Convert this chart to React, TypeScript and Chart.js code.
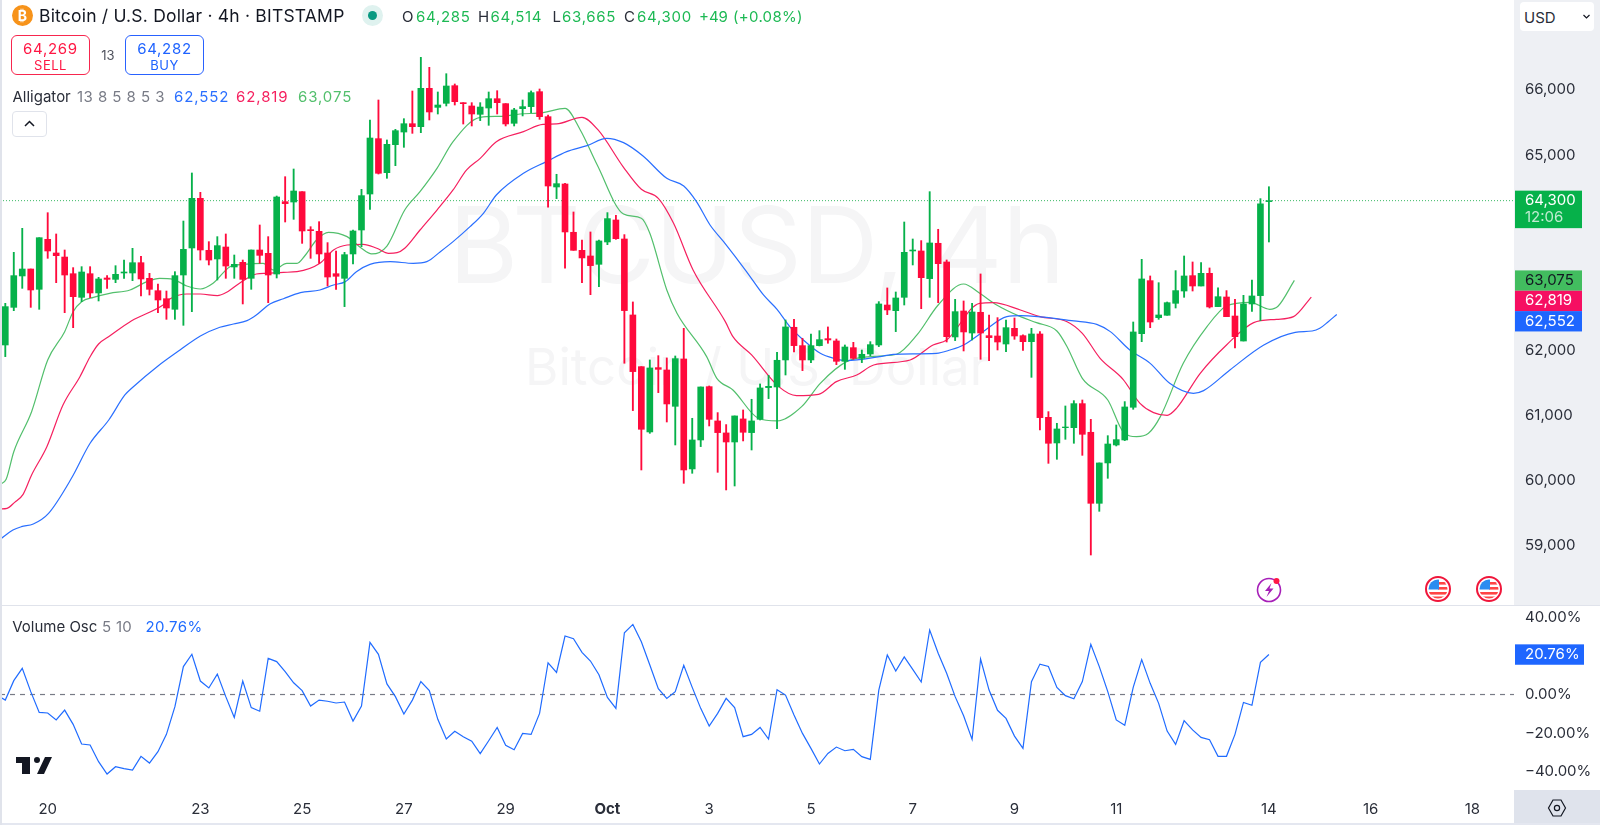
import React, { useEffect, useRef } from "react";
import { Chart, registerables } from "chart.js";

Chart.register(...registerables);

const FONT = "Inter, 'Noto Sans', sans-serif";

const opens = [62083,62661,63143,63250,62938,63706,63496,63434,63178,62815,63178,62882,63112,63091,63189,63189,63347,63107,62917,62794,62631,63158,63573,64336,63537,63404,63588,63281,63353,63107,63542,63491,63173,64284,64279,64438,63854,63829,63496,63178,63107,63481,63849,64402,65252,64730,65160,65354,65482,65436,66025,65733,65795,66066,65805,65754,65626,65723,65866,65790,65488,65713,65744,65974,65590,64510,64556,63814,63537,63450,63322,63665,64003,63711,62544,61750,60747,61735,61699,61141,61868,60179,60624,61443,60916,60732,60593,60947,60737,60941,61428,61438,61853,62355,62073,61853,62073,62180,62145,61832,62042,61878,61945,62083,62697,62610,62815,63527,63527,63102,63645,63358,62206,62605,62267,62585,62226,62221,62098,62339,62226,62134,62252,60972,60578,60813,60813,61182,60742,59651,60271,60547,60624,61126,62257,63071,62503,62539,62723,62912,63148,62989,63184,62672,62820,62528,62144,62713,62841,64285];
const highs = [62723,63506,63875,63250,63731,64115,63788,63542,63271,63286,63286,63122,63148,63301,63388,63568,63445,63184,63020,62912,63209,63987,64725,64428,63670,63747,63788,63465,63388,63542,63926,63747,64371,64668,64786,64438,63900,63977,63655,63527,63506,63849,64474,65539,65846,65232,65395,65559,65984,66501,66348,65969,66250,66092,65805,65805,65805,65969,65989,65790,65718,65846,65985,66015,65616,64705,64566,64126,63696,63819,63696,64116,64075,63778,62744,61750,61853,61919,61884,61914,62339,60957,61438,61453,61044,60860,60993,61085,61249,61484,61617,61971,62467,62477,62186,62252,62303,62360,62175,62083,62124,62006,62134,62749,62959,62897,63972,63711,63686,64438,63860,63389,62784,62759,62723,63174,62544,62503,62467,62498,62237,62339,62288,61059,60880,61146,61228,61238,60941,60271,60690,60854,61213,62436,63399,63143,63040,62743,63225,63450,63358,63348,63266,62959,62918,62784,62846,63081,64331,64514];
const lows = [61904,62610,62953,62661,62631,63414,63040,62579,62349,62748,62810,62759,62953,63040,63107,63071,62835,62851,62579,62477,62477,62385,62595,63388,63312,63081,63107,63107,62713,62938,63337,62733,63112,63972,64013,63644,63414,63337,62989,62938,62672,63327,63593,64167,64709,64643,64837,65119,65334,65344,65539,65631,65754,65769,65477,65447,65529,65457,65631,65447,65447,65601,65652,65549,64198,64331,63261,63537,63041,62856,62979,63624,63706,61802,61075,60163,60726,61351,60900,60547,59958,60112,60522,60839,60127,59856,59917,60609,60470,60931,61259,60798,61622,61976,61689,61812,62068,62109,61781,61709,61863,61812,61919,62058,62549,62288,62697,63312,62641,62815,62733,62129,62150,61991,62160,61863,61842,62006,61981,62170,62001,61586,60777,60265,60327,60634,60573,60388,58857,59528,60035,60532,60614,61095,62134,62349,62477,62539,62651,62815,62912,62989,62651,62672,62518,62037,62144,62600,62457,63665];
const closes = [62672,63148,63250,62928,63731,63527,63455,63158,62825,63204,62882,63097,63091,63168,63204,63347,63097,62938,62774,62651,63148,63552,64336,63542,63388,63609,63296,63322,63091,63542,63460,63158,64356,64254,64448,63834,63839,63481,63127,63138,63470,63834,64377,65262,64720,65165,65375,65482,65436,66025,65662,65769,66061,65820,65790,65631,65738,65866,65805,65478,65693,65744,65959,65590,64525,64561,63819,63537,63420,63302,63681,64024,63716,62611,61674,60788,61730,61709,61177,61873,60163,60624,61438,60941,60737,60593,60993,60742,60916,61423,61448,61848,62360,62073,61853,62073,62165,62160,61832,62052,61878,61940,62088,62713,62621,62805,63506,63542,63117,63650,63332,62211,62595,62283,62590,62267,62196,62129,62349,62221,62134,62252,60967,60573,60793,60823,61182,60711,59651,60271,60562,60629,61131,62283,63097,62436,62544,62733,62918,63143,62989,63184,62667,62825,62518,62211,62713,62836,64251,64300];

const jawBars = [-0.6,0.9,1.9,3.3,5.1,7.8,10,12.2,14.1,15.1,17.9,20.6,23,25.3,26.9,28.5,29.6,31.2,32.8,34.8,37.1,38.7,40.1,41.4,43,45.4,48.1,49.7,51.3,52.8,54.8,56.4,57.9,61.1,63.8,66.2,68.6,70.9,72.9,75.2,78,80,81.5,83.1,84.7,87.4,89.4,91,92.5,94.1,96.1,97.7,99.2,103.1,104.7,109.8,111.4,113,115.3,118.1,119.7,126,128.7,130.3,132.6,135,137.3,140.1,141.3,144.4,148.4,152.1,154.1,155,156,157];
const jawValues = [59098,59241,59292,59333,59497,60035,60573,60931,61315,61442,61750,62006,62221,62355,62405,62457,62544,62713,62794,62887,62928,63004,63056,63209,63322,63363,63337,63363,63516,63670,63900,64110,64387,64720,64899,65053,65145,65258,65191,64986,64643,64525,64285,63926,63670,63210,62851,62631,62365,62160,61955,61878,61843,61904,61940,61955,62006,62083,62288,62518,62534,62452,62400,62288,62006,61801,61494,61341,61382,61699,62083,62278,62298,62339,62441,62552];

const teethBars = [-0.6,0.2,1.1,2.1,3.1,4.9,6.8,8.8,10,11,12.3,14.9,18.6,19.4,21.4,23,25,26.1,27.7,29.6,30.8,32.8,34.4,37.1,38.7,40.3,42.2,43.8,45.2,46.2,47.1,48.9,50.9,52.8,54.4,56,57.9,61.1,63.4,65,68,69.9,72.9,75,77,78.8,81.1,84.9,85.8,88,91.2,93.3,95.9,98,100.4,102.4,106.7,109.4,111,114.9,116.5,119.7,122,125.2,127,129.1,131.8,133.8,135.4,137,138.1,140.9,144,147.2,149.9,151.9,154];
const teethValues = [59564,59574,59666,59789,60086,60521,61161,61596,61903,62098,62221,62456,62697,62789,62866,62866,62841,62892,63040,63173,63184,63199,63209,63337,63542,63619,63629,63568,63491,63501,63568,63849,64156,64464,64771,64950,65206,65360,65473,65478,65580,65386,64812,64474,64336,63952,63235,62442,62211,61930,61443,61305,61325,61520,61622,61776,61853,62083,62160,62723,62733,62621,62518,62441,62262,61878,61556,61187,61044,61003,61110,61648,62083,62426,62477,62518,62819];

const lipsBars = [-0.6,0.1,1,3.1,5,7,8,9,10.4,12.3,14.7,16.7,18.2,19.8,21.4,23,24.5,26.5,28.1,30.4,31.6,33.2,34.4,35.3,36.7,38.1,40.3,42,43.2,45,47.1,48.9,50.9,52.8,56,58.3,60.7,63.4,66,67.8,69.8,72.9,75,76,78,79.2,82.7,83.9,85.8,88.8,91,93.9,96.1,99.2,103.1,105.1,107.5,110,113,114.9,116.9,119.7,121.6,124,125.2,127,130,131.8,133.4,134.8,136.2,138.9,141.7,144,146.8,149.1,150.1,152];
const lipsValues = [59943,60020,60444,61058,61852,62287,62594,62748,62815,62876,62928,63056,63107,63091,62989,62943,63030,63286,63322,63337,63235,63337,63337,63450,63696,63813,63747,63568,63481,63603,64156,64438,64796,65206,65580,65595,65631,65652,65718,65386,64848,64095,64029,63798,62928,62570,61904,61571,61392,60957,60916,61136,61494,61827,61914,61940,62237,62697,63020,62877,62697,62518,62426,62298,62057,61571,61238,60752,60675,60726,60982,61801,62365,62682,62738,62631,62682,63075];

// Volume oscillator: the first value belongs to the bar just before the first candle.
const oscValues = [-0.3,-2.9,7.2,13.6,1.5,-9.3,-9.6,-13.2,-8.1,-15.5,-25.7,-26.2,-34.9,-41.3,-37.5,-38.5,-39.2,-32.1,-35.6,-29.7,-20.7,-6.3,14.5,20.9,7.0,3.4,10.6,-1.1,-11.9,7.0,-6.8,-8.7,18.8,17.1,11.9,6.1,2.0,-6.0,-2.9,-3.5,-4.4,-3.9,-13.8,-6.0,27.1,20.9,5.5,-1.1,-10.1,-2.9,6.7,2.0,-12.9,-23.1,-19.1,-21.9,-24.2,-30.7,-24.0,-17.1,-26.4,-28.7,-20.2,-20.7,-9.8,16.5,11.5,30.4,29.0,21.9,17.4,10.3,-1.5,-7.2,32.1,36.4,27.4,15.3,3.0,-2.0,1.5,15.2,3.7,-7.2,-16.4,-9.8,-2.0,-6.8,-21.9,-20.7,-17.1,-23.1,2.5,-0.3,-10.6,-20.2,-28.0,-36.1,-30.6,-27.3,-29.2,-28.5,-32.3,-33.7,2.3,20.5,12.2,19.5,13.1,6.5,33.5,21.4,11.0,-1.1,-11.0,-23.3,18.4,2.3,-8.2,-12.4,-21.6,-28.0,6.7,15.8,14.6,3.7,-0.6,-2.2,6.7,26.1,14.5,1.5,-13.2,-16.0,3.7,18.1,5.8,-4.6,-19.0,-25.9,-13.6,-18.4,-22.3,-23.5,-32.1,-32.1,-20.7,-4.1,-5.6,16.7,20.76];

const dateTickBars = [5,23,35,47,59,71,83,95,107,119,131,149,161,173];
const dateTickLabels = ["20","23","25","27","29","Oct","3","5","7","9","11","14","16","18"];
const priceTicks = [59000,60000,61000,62000,65000,66000];
const oscTicks = [40,0,-20,-40];

const lastClose = 64300;
const jawLast = 62552;
const teethLast = 62819;
const lipsLast = 63075;
const oscLast = 20.76;

const UP = "#06b14a";
const DOWN = "#ff0a3c";
const JAW = "#2a6fff";
const TEETH = "#f5205f";
const LIPS = "#52bf6c";
const OSC = "#1f6bff";
const TEXT = "#2a2e39";

const xMin = -0.625;
const xMax = 177.9;

const xyOf = (bars: number[], values: number[]) => bars.map((x, i) => ({ x, y: values[i] }));
const fmt = (v: number) => v.toLocaleString("en-US");
const oscFmt = (v: number) => (v < 0 ? "\u2212" : "") + Math.abs(v).toFixed(2) + "%";
const noPad = (s: any) => {
  s.paddingTop = 0;
  s.paddingBottom = 0;
  s.paddingLeft = 0;
  s.paddingRight = 0;
};

const tagPlugin = {
  id: "tags",
  afterDraw(chart: any) {
    const ctx = chart.ctx;
    const y = chart.scales.y;
    ctx.save();
    ctx.textBaseline = "middle";
    ctx.textAlign = "left";
    ctx.font = `15px ${FONT}`;
    const x0 = chart.chartArea.right + 1;
    const w = 67;
    const c = y.getPixelForValue(lastClose);
    ctx.fillStyle = UP;
    ctx.fillRect(x0, c - 10, w, 37.5);
    ctx.fillStyle = "#fff";
    ctx.fillText(fmt(lastClose), x0 + 10, c);
    ctx.globalAlpha = 0.75;
    ctx.fillText("12:06", x0 + 10, c + 17);
    ctx.globalAlpha = 1;
    const tags: [number, string, string][] = [
      [lipsLast, "#42bd5f", "#131722"],
      [teethLast, "#f60f62", "#fff"],
      [jawLast, "#1e66ff", "#fff"],
    ];
    const top = y.getPixelForValue(lipsLast) - 10;
    tags.forEach(([v, bg, fg], i) => {
      ctx.fillStyle = bg;
      ctx.fillRect(x0, top + i * 20.35, w, 20.35);
      ctx.fillStyle = fg;
      ctx.fillText(fmt(v), x0 + 10, top + i * 20.35 + 10);
    });
    ctx.restore();
  },
  beforeDatasetsDraw(chart: any) {
    const ctx = chart.ctx;
    ctx.save();
    ctx.fillStyle = "#f5f5f6";
    ctx.textAlign = "center";
    ctx.textBaseline = "middle";
    ctx.font = `106px ${FONT}`;
    ctx.fillText("BTCUSD, 4h", 757, 251);
    ctx.font = `51px ${FONT}`;
    ctx.fillText("Bitcoin / U.S. Dollar", 757, 370);
    ctx.restore();
  },
};

const oscTagPlugin = {
  id: "oscTag",
  afterDraw(chart: any) {
    const ctx = chart.ctx;
    const c = chart.scales.y.getPixelForValue(oscLast);
    const x0 = chart.chartArea.right + 1;
    ctx.save();
    ctx.fillStyle = "#1e66ff";
    ctx.fillRect(x0, c - 10.2, 69, 20.4);
    ctx.fillStyle = "#fff";
    ctx.textBaseline = "middle";
    ctx.font = `15px ${FONT}`;
    ctx.fillText(oscLast.toFixed(2) + "%", x0 + 10, c);
    ctx.restore();
  },
};

function T({ x, y, c, s = 15, w, ls = 0, children, center }: any) {
  return (
    <span
      style={{
        position: "absolute",
        left: x,
        top: y,
        transform: center ? "translate(-50%,-50%)" : "translateY(-50%)",
        color: c,
        fontSize: s,
        fontWeight: w,
        letterSpacing: ls,
        lineHeight: 1,
        whiteSpace: "pre",
        fontFamily: FONT,
      }}
    >
      {children}
    </span>
  );
}

function Flag({ cx }: { cx: number }) {
  return (
    <svg style={{ position: "absolute", left: cx - 13, top: 576 }} width={26} height={26} viewBox="0 0 26 26">
      <defs>
        <clipPath id={`f${cx}`}>
          <circle cx="13" cy="13" r="9.5" />
        </clipPath>
      </defs>
      <circle cx="13" cy="13" r="12" fill="#fff" stroke="#f0163a" strokeWidth="2" />
      <g clipPath={`url(#f${cx})`}>
        <rect x="3" y="3" width="20" height="20" fill="#fff" />
        <rect x="13" y="6" width="11" height="2.6" fill="#f44" />
        <rect x="13" y="11" width="11" height="2.6" fill="#f44" />
        <rect x="3" y="16" width="20" height="2.6" fill="#f44" />
        <rect x="3" y="20.5" width="20" height="3" fill="#f44" />
        <rect x="3" y="3" width="11" height="10.5" fill="#2a8cf0" />
      </g>
    </svg>
  );
}

export default function App() {
  const topRef = useRef<HTMLCanvasElement>(null);
  const botRef = useRef<HTMLCanvasElement>(null);

  useEffect(() => {
    const up = closes.map((c, i) => c >= opens[i]);
    const colors = up.map((u) => (u ? UP : DOWN));
    const alligator = { borderWidth: 1.2, pointRadius: 0, order: 3, cubicInterpolationMode: "monotone" };
    const top = new Chart(topRef.current as HTMLCanvasElement, {
      type: "bar",
      data: {
        datasets: [
          {
            label: "Body",
            data: opens.map((o, i) => ({ x: i, y: [Math.min(o, closes[i]), Math.max(o, closes[i])] })),
            backgroundColor: colors,
            grouped: false,
            maxBarThickness: 6,
            barPercentage: 1,
            categoryPercentage: 1,
            order: 1,
          },
          {
            label: "Wick",
            data: highs.map((h, i) => ({ x: i, y: [lows[i], h] })),
            backgroundColor: colors,
            grouped: false,
            maxBarThickness: 1.2,
            barPercentage: 1,
            categoryPercentage: 1,
            order: 2,
          },
          { type: "line", label: "Jaw", data: xyOf(jawBars, jawValues), borderColor: JAW, ...alligator },
          { type: "line", label: "Teeth", data: xyOf(teethBars, teethValues), borderColor: TEETH, ...alligator },
          { type: "line", label: "Lips", data: xyOf(lipsBars, lipsValues), borderColor: LIPS, ...alligator },
          {
            type: "line",
            label: "Last",
            data: [{ x: xMin, y: lastClose }, { x: xMax, y: lastClose }],
            borderColor: "#3cba66",
            borderWidth: 1,
            borderDash: [1, 2],
            pointRadius: 0,
            order: 4,
          },
        ] as any,
      },
      options: {
        responsive: false,
        animation: false,
        layout: { padding: 0 },
        plugins: { legend: { display: false }, tooltip: { enabled: false } },
        scales: {
          x: { type: "linear", display: false, offset: false, min: xMin, max: xMax, grid: { display: false } },
          y: {
            position: "right",
            min: 58089,
            max: 67382,
            border: { display: false },
            grid: { display: false, drawTicks: false },
            afterFit: (s: any) => { s.width = 86; noPad(s); },
            afterBuildTicks: (s: any) => { s.ticks = priceTicks.map((value) => ({ value })); },
            ticks: {
              padding: 11,
              autoSkip: false,
              color: TEXT,
              font: { family: FONT, size: 15 },
              callback: (v: any) => fmt(Number(v)),
            },
          },
        },
      } as any,
      plugins: [tagPlugin] as any,
    });

    const bot = new Chart(botRef.current as HTMLCanvasElement, {
      type: "line",
      data: {
        datasets: [
          {
            label: "Volume Osc",
            data: oscValues.map((y, i) => ({ x: i - 1, y })),
            borderColor: OSC,
            borderWidth: 1.2,
            pointRadius: 0,
            order: 1,
          },
          {
            label: "Zero",
            data: [{ x: xMin, y: 0 }, { x: xMax, y: 0 }],
            borderColor: "#787b86",
            borderWidth: 1.2,
            borderDash: [5, 5],
            pointRadius: 0,
            order: 2,
          },
        ],
      },
      options: {
        responsive: false,
        animation: false,
        layout: { padding: 0 },
        plugins: { legend: { display: false }, tooltip: { enabled: false } },
        scales: {
          x: {
            type: "linear",
            min: xMin,
            max: xMax,
            offset: false,
            border: { display: false },
            grid: { display: false, drawTicks: false },
            afterFit: (s: any) => { s.height = 35; noPad(s); },
            afterBuildTicks: (s: any) => { s.ticks = dateTickBars.map((value) => ({ value })); },
            ticks: {
              padding: 10,
              autoSkip: false,
              maxRotation: 0,
              color: TEXT,
              font: (ctx: any) => ({
                family: FONT,
                size: 15,
                weight: dateTickLabels[dateTickBars.indexOf(ctx.tick?.value)] === "Oct" ? "bold" : "normal",
              }),
              callback: (v: any) => dateTickLabels[dateTickBars.indexOf(Number(v))],
            },
          },
          y: {
            position: "right",
            min: -49.6,
            max: 46.5,
            border: { display: false },
            grid: { display: false, drawTicks: false },
            afterFit: (s: any) => { s.width = 86; noPad(s); },
            afterBuildTicks: (s: any) => { s.ticks = oscTicks.map((value) => ({ value })); },
            ticks: {
              padding: 11,
              autoSkip: false,
              color: TEXT,
              font: { family: FONT, size: 15 },
              callback: (v: any) => oscFmt(Number(v)),
            },
          },
        },
      } as any,
      plugins: [oscTagPlugin] as any,
    });

    return () => {
      top.destroy();
      bot.destroy();
    };
  }, []);

  const green = "#1db954";
  const ns = 0.7;
  return (
    <div style={{ position: "absolute", left: 0, top: 0, width: 1600, height: 825, overflow: "hidden", background: "#fff", fontFamily: FONT }}>
      <div style={{ position: "absolute", left: 1514, top: 0, width: 86, height: 605, background: "#eef0f4" }} />
      <div style={{ position: "absolute", left: 1514, top: 790, width: 86, height: 34, background: "#dfe3ec" }} />
      <canvas ref={topRef} width={1600} height={605} style={{ position: "absolute", left: 0, top: 0, display: "block" }} />
      <canvas ref={botRef} width={1600} height={220} style={{ position: "absolute", left: 0, top: 605, display: "block" }} />
      <div style={{ position: "absolute", left: 0, top: 605, width: 1600, height: 1, background: "#e0e3eb" }} />
      <div style={{ position: "absolute", left: 0, top: 823, width: 1600, height: 2, background: "#e4e7f0" }} />
      <div style={{ position: "absolute", left: 0, top: 0, width: 1.5, height: 825, background: "#e0e3eb" }} />

      <div style={{ position: "absolute", left: 12, top: 5, width: 21, height: 21, borderRadius: "50%", background: "#f7931a" }} />
      <T x={22.5} y={15.5} c="#fff" s={14} w={700} center>{"\u20BF"}</T>
      <T x={39} y={16} c="#131722" s={17.5} ls={0.2}>Bitcoin / U.S. Dollar · 4h · BITSTAMP</T>
      <div style={{ position: "absolute", left: 362, top: 5, width: 21, height: 21, borderRadius: "50%", background: "#dff2ef" }} />
      <div style={{ position: "absolute", left: 368, top: 11, width: 9, height: 9, borderRadius: "50%", background: "#089981" }} />

      <T x={402} y={16} c="#2a2e39">O</T><T x={416} y={16} c={green} ls={ns}>64,285</T>
      <T x={478} y={16} c="#2a2e39">H</T><T x={490.5} y={16} c={green} ls={ns}>64,514</T>
      <T x={552.5} y={16} c="#2a2e39">L</T><T x={562} y={16} c={green} ls={ns}>63,665</T>
      <T x={624} y={16} c="#2a2e39">C</T><T x={637} y={16} c={green} ls={ns}>64,300</T>
      <T x={699} y={16} c={green}>+49</T><T x={733} y={16} c={green} ls={0.3}>(+0.08%)</T>

      <div style={{ position: "absolute", left: 11, top: 35, width: 79, height: 40, boxSizing: "border-box", border: "1px solid #f7264e", borderRadius: 6 }} />
      <T x={50.5} y={48} c="#ff1744" ls={ns} center>64,269</T>
      <T x={50.5} y={65} c="#ff1744" s={13} ls={0.5} center>SELL</T>
      <T x={108} y={55} c="#50535e" s={13} center>13</T>
      <div style={{ position: "absolute", left: 125, top: 35, width: 79, height: 40, boxSizing: "border-box", border: "1px solid #2962ff", borderRadius: 6 }} />
      <T x={164.5} y={48} c="#1f63ff" ls={ns} center>64,282</T>
      <T x={164.5} y={65} c="#1f63ff" s={13} ls={0.5} center>BUY</T>

      <T x={12.5} y={95.5} c="#2a2e39">Alligator</T>
      <T x={77} y={95.5} c="#787b86" ls={0.45}>13 8 5 8 5 3</T>
      <T x={174} y={95.5} c={JAW} ls={0.9}>{fmt(jawLast)}</T>
      <T x={236} y={95.5} c={TEETH} ls={0.9}>{fmt(teethLast)}</T>
      <T x={298} y={95.5} c={LIPS} ls={0.9}>{fmt(lipsLast)}</T>
      <div style={{ position: "absolute", left: 12, top: 111, width: 34.5, height: 25.5, boxSizing: "border-box", border: "1px solid #e0e3eb", borderRadius: 4, background: "#fff" }} />
      <svg style={{ position: "absolute", left: 23, top: 119 }} width={13} height={9} viewBox="0 0 13 9">
        <path d="M2 7 L6.5 2.5 L11 7" fill="none" stroke="#131722" strokeWidth="1.5" />
      </svg>

      <div style={{ position: "absolute", left: 1519.5, top: 2, width: 74.5, height: 29, background: "#fff", borderRadius: 4 }} />
      <T x={1524} y={17} c="#2a2e39">USD</T>
      <svg style={{ position: "absolute", left: 1582, top: 13 }} width={9} height={7} viewBox="0 0 9 7">
        <path d="M1.5 2 L4.5 5 L7.5 2" fill="none" stroke="#131722" strokeWidth="1.2" />
      </svg>

      <T x={12.2} y={626} c="#2a2e39">Volume Osc</T>
      <T x={102} y={626} c="#787b86" ls={0.3}>5 10</T>
      <T x={145.5} y={626} c={OSC} ls={0.4}>{oscLast.toFixed(2)}%</T>

      <svg style={{ position: "absolute", left: 15.5, top: 755.5 }} width={36} height={18} viewBox="0 5 36 18">
        <path d="M14 6H0v6h6v11h8V6z M28 23h-7l8-17h7l-8 17z" fill="#131722" />
        <circle cx="21" cy="9" r="3" fill="#131722" />
      </svg>

      <svg style={{ position: "absolute", left: 1256, top: 575 }} width={28} height={28} viewBox="0 0 28 28">
        <circle cx="13" cy="15" r="11.5" fill="#fff" stroke="#a61fb8" strokeWidth="1.6" />
        <path d="M15.5 8 L9 16 H13 L10.5 22 L17.5 13.5 H13.5 Z" fill="#a61fb8" />
        <circle cx="20.5" cy="6" r="3" fill="#ff1744" />
      </svg>
      <Flag cx={1438} />
      <Flag cx={1489} />

      <svg style={{ position: "absolute", left: 1547, top: 798 }} width={20} height={20} viewBox="0 0 20 20">
        <path d="M6 2 H14 L18.5 10 L14 18 H6 L1.5 10 Z" fill="none" stroke="#131722" strokeWidth="1.2" />
        <circle cx="10" cy="10" r="2.6" fill="none" stroke="#131722" strokeWidth="1.2" />
      </svg>
    </div>
  );
}
